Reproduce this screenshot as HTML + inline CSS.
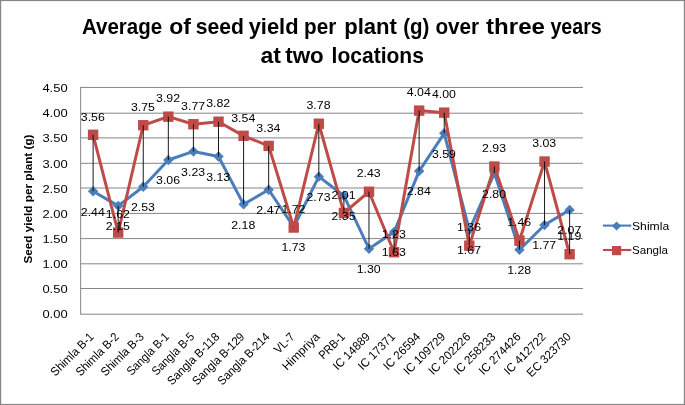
<!DOCTYPE html>
<html lang="en"><head><meta charset="utf-8"><title>Average of seed yield per plant</title>
<style>html,body{margin:0;padding:0;background:#fff;}body{width:685px;height:405px;overflow:hidden;}svg{display:block;}text{font-family:"Liberation Sans", sans-serif;fill:#000;}</style>
</head><body>
<svg width="685" height="405" viewBox="0 0 685 405">
<rect x="0" y="0" width="685" height="405" fill="#fff"/>
<rect x="0.6" y="0.5" width="683.8" height="404" fill="none" stroke="#868686" stroke-width="1.2"/>
<g font-size="22" font-weight="bold">
<text x="82.00" y="33.50" textLength="80.20" lengthAdjust="spacingAndGlyphs">Average</text>
<text x="169.30" y="33.50" textLength="21.70" lengthAdjust="spacingAndGlyphs">of</text>
<text x="195.70" y="33.50" textLength="48.10" lengthAdjust="spacingAndGlyphs">seed</text>
<text x="248.70" y="33.50" textLength="49.80" lengthAdjust="spacingAndGlyphs">yield</text>
<text x="304.00" y="33.50" textLength="32.20" lengthAdjust="spacingAndGlyphs">per</text>
<text x="344.20" y="33.50" textLength="52.80" lengthAdjust="spacingAndGlyphs">plant</text>
<text x="403.20" y="33.50" textLength="26.20" lengthAdjust="spacingAndGlyphs">(g)</text>
<text x="435.40" y="33.50" textLength="43.80" lengthAdjust="spacingAndGlyphs">over</text>
<text x="486.10" y="33.50" textLength="58.80" lengthAdjust="spacingAndGlyphs">three</text>
<text x="550.40" y="33.50" textLength="51.40" lengthAdjust="spacingAndGlyphs">years</text>
<text x="260.50" y="63.30" textLength="20.50" lengthAdjust="spacingAndGlyphs">at</text>
<text x="285.20" y="63.30" textLength="38.50" lengthAdjust="spacingAndGlyphs">two</text>
<text x="331.60" y="63.30" textLength="92.30" lengthAdjust="spacingAndGlyphs">locations</text>
</g>
<line x1="80.65" y1="87.45" x2="582.95" y2="87.45" stroke="#868686" stroke-width="1"/>
<line x1="80.65" y1="113.20" x2="582.95" y2="113.20" stroke="#868686" stroke-width="1"/>
<line x1="80.65" y1="137.90" x2="582.95" y2="137.90" stroke="#868686" stroke-width="1"/>
<line x1="80.65" y1="163.30" x2="582.95" y2="163.30" stroke="#868686" stroke-width="1"/>
<line x1="80.65" y1="188.00" x2="582.95" y2="188.00" stroke="#868686" stroke-width="1"/>
<line x1="80.65" y1="213.40" x2="582.95" y2="213.40" stroke="#868686" stroke-width="1"/>
<line x1="80.65" y1="238.60" x2="582.95" y2="238.60" stroke="#868686" stroke-width="1"/>
<line x1="80.65" y1="263.80" x2="582.95" y2="263.80" stroke="#868686" stroke-width="1"/>
<line x1="80.65" y1="288.50" x2="582.95" y2="288.50" stroke="#868686" stroke-width="1"/>
<line x1="80.65" y1="314.20" x2="582.95" y2="314.20" stroke="#868686" stroke-width="1"/>
<line x1="80.65" y1="86.95" x2="80.65" y2="314.70" stroke="#868686" stroke-width="1"/>
<g font-size="11" text-anchor="end">
<text x="67.6" y="92.25" textLength="25.2" lengthAdjust="spacingAndGlyphs">4.50</text>
<text x="67.6" y="117.37" textLength="25.2" lengthAdjust="spacingAndGlyphs">4.00</text>
<text x="67.6" y="142.49" textLength="25.2" lengthAdjust="spacingAndGlyphs">3.50</text>
<text x="67.6" y="167.61" textLength="25.2" lengthAdjust="spacingAndGlyphs">3.00</text>
<text x="67.6" y="192.73" textLength="25.2" lengthAdjust="spacingAndGlyphs">2.50</text>
<text x="67.6" y="217.85" textLength="25.2" lengthAdjust="spacingAndGlyphs">2.00</text>
<text x="67.6" y="242.97" textLength="25.2" lengthAdjust="spacingAndGlyphs">1.50</text>
<text x="67.6" y="268.09" textLength="25.2" lengthAdjust="spacingAndGlyphs">1.00</text>
<text x="67.6" y="293.21" textLength="25.2" lengthAdjust="spacingAndGlyphs">0.50</text>
<text x="67.6" y="318.33" textLength="25.2" lengthAdjust="spacingAndGlyphs">0.00</text>
</g>
<text transform="translate(32.4,199) rotate(-90)" font-size="11.2" font-weight="bold" text-anchor="middle" textLength="129" lengthAdjust="spacingAndGlyphs">Seed yield per plant  (g)</text>
<polyline points="93.10,191.25 118.18,205.86 143.26,186.71 168.34,160.01 193.42,151.44 218.50,156.48 243.58,204.35 268.66,189.74 293.74,227.03 318.82,176.64 343.90,195.78 368.98,248.69 394.06,232.06 419.14,171.09 444.22,133.30 469.30,230.05 494.38,173.11 519.46,249.70 544.54,225.01 569.62,209.89" fill="none" stroke="#4A7EBB" stroke-width="3" stroke-linejoin="round" stroke-linecap="round"/>
<path d="M93.10 186.05L98.30 191.25L93.10 196.45L87.90 191.25Z" fill="#4A7EBB"/>
<path d="M118.18 200.66L123.38 205.86L118.18 211.06L112.98 205.86Z" fill="#4A7EBB"/>
<path d="M143.26 181.51L148.46 186.71L143.26 191.91L138.06 186.71Z" fill="#4A7EBB"/>
<path d="M168.34 154.81L173.54 160.01L168.34 165.21L163.14 160.01Z" fill="#4A7EBB"/>
<path d="M193.42 146.24L198.62 151.44L193.42 156.64L188.22 151.44Z" fill="#4A7EBB"/>
<path d="M218.50 151.28L223.70 156.48L218.50 161.68L213.30 156.48Z" fill="#4A7EBB"/>
<path d="M243.58 199.15L248.78 204.35L243.58 209.55L238.38 204.35Z" fill="#4A7EBB"/>
<path d="M268.66 184.54L273.86 189.74L268.66 194.94L263.46 189.74Z" fill="#4A7EBB"/>
<path d="M293.74 221.83L298.94 227.03L293.74 232.23L288.54 227.03Z" fill="#4A7EBB"/>
<path d="M318.82 171.44L324.02 176.64L318.82 181.84L313.62 176.64Z" fill="#4A7EBB"/>
<path d="M343.90 190.58L349.10 195.78L343.90 200.98L338.70 195.78Z" fill="#4A7EBB"/>
<path d="M368.98 243.49L374.18 248.69L368.98 253.89L363.78 248.69Z" fill="#4A7EBB"/>
<path d="M394.06 226.86L399.26 232.06L394.06 237.26L388.86 232.06Z" fill="#4A7EBB"/>
<path d="M419.14 165.89L424.34 171.09L419.14 176.29L413.94 171.09Z" fill="#4A7EBB"/>
<path d="M444.22 128.10L449.42 133.30L444.22 138.50L439.02 133.30Z" fill="#4A7EBB"/>
<path d="M469.30 224.85L474.50 230.05L469.30 235.25L464.10 230.05Z" fill="#4A7EBB"/>
<path d="M494.38 167.91L499.58 173.11L494.38 178.31L489.18 173.11Z" fill="#4A7EBB"/>
<path d="M519.46 244.50L524.66 249.70L519.46 254.90L514.26 249.70Z" fill="#4A7EBB"/>
<path d="M544.54 219.81L549.74 225.01L544.54 230.21L539.34 225.01Z" fill="#4A7EBB"/>
<path d="M569.62 204.69L574.82 209.89L569.62 215.09L564.42 209.89Z" fill="#4A7EBB"/>
<polyline points="93.10,134.81 118.18,232.57 143.26,125.24 168.34,116.67 193.42,124.23 218.50,121.71 243.58,135.82 268.66,145.90 293.74,227.53 318.82,123.73 343.90,212.92 368.98,191.75 394.06,252.22 419.14,110.62 444.22,112.64 469.30,245.67 494.38,166.56 519.46,240.63 544.54,161.52 569.62,254.24" fill="none" stroke="#BE4B48" stroke-width="3" stroke-linejoin="round" stroke-linecap="round"/>
<rect x="87.90" y="129.61" width="10.40" height="10.40" fill="#BE4B48"/>
<rect x="112.98" y="227.37" width="10.40" height="10.40" fill="#BE4B48"/>
<rect x="138.06" y="120.04" width="10.40" height="10.40" fill="#BE4B48"/>
<rect x="163.14" y="111.47" width="10.40" height="10.40" fill="#BE4B48"/>
<rect x="188.22" y="119.03" width="10.40" height="10.40" fill="#BE4B48"/>
<rect x="213.30" y="116.51" width="10.40" height="10.40" fill="#BE4B48"/>
<rect x="238.38" y="130.62" width="10.40" height="10.40" fill="#BE4B48"/>
<rect x="263.46" y="140.70" width="10.40" height="10.40" fill="#BE4B48"/>
<rect x="288.54" y="222.33" width="10.40" height="10.40" fill="#BE4B48"/>
<rect x="313.62" y="118.53" width="10.40" height="10.40" fill="#BE4B48"/>
<rect x="338.70" y="207.72" width="10.40" height="10.40" fill="#BE4B48"/>
<rect x="363.78" y="186.55" width="10.40" height="10.40" fill="#BE4B48"/>
<rect x="388.86" y="247.02" width="10.40" height="10.40" fill="#BE4B48"/>
<rect x="413.94" y="105.42" width="10.40" height="10.40" fill="#BE4B48"/>
<rect x="439.02" y="107.44" width="10.40" height="10.40" fill="#BE4B48"/>
<rect x="464.10" y="240.47" width="10.40" height="10.40" fill="#BE4B48"/>
<rect x="489.18" y="161.36" width="10.40" height="10.40" fill="#BE4B48"/>
<rect x="514.26" y="235.43" width="10.40" height="10.40" fill="#BE4B48"/>
<rect x="539.34" y="156.32" width="10.40" height="10.40" fill="#BE4B48"/>
<rect x="564.42" y="249.04" width="10.40" height="10.40" fill="#BE4B48"/>
<line x1="93.10" y1="191.25" x2="93.10" y2="134.81" stroke="#000" stroke-width="0.9"/>
<line x1="118.18" y1="205.86" x2="118.18" y2="232.57" stroke="#000" stroke-width="0.9"/>
<line x1="143.26" y1="186.71" x2="143.26" y2="125.24" stroke="#000" stroke-width="0.9"/>
<line x1="168.34" y1="160.01" x2="168.34" y2="116.67" stroke="#000" stroke-width="0.9"/>
<line x1="193.42" y1="151.44" x2="193.42" y2="124.23" stroke="#000" stroke-width="0.9"/>
<line x1="218.50" y1="156.48" x2="218.50" y2="121.71" stroke="#000" stroke-width="0.9"/>
<line x1="243.58" y1="204.35" x2="243.58" y2="135.82" stroke="#000" stroke-width="0.9"/>
<line x1="268.66" y1="189.74" x2="268.66" y2="145.90" stroke="#000" stroke-width="0.9"/>
<line x1="293.74" y1="227.03" x2="293.74" y2="227.53" stroke="#000" stroke-width="0.9"/>
<line x1="318.82" y1="176.64" x2="318.82" y2="123.73" stroke="#000" stroke-width="0.9"/>
<line x1="343.90" y1="195.78" x2="343.90" y2="212.92" stroke="#000" stroke-width="0.9"/>
<line x1="368.98" y1="248.69" x2="368.98" y2="191.75" stroke="#000" stroke-width="0.9"/>
<line x1="394.06" y1="232.06" x2="394.06" y2="252.22" stroke="#000" stroke-width="0.9"/>
<line x1="419.14" y1="171.09" x2="419.14" y2="110.62" stroke="#000" stroke-width="0.9"/>
<line x1="444.22" y1="133.30" x2="444.22" y2="112.64" stroke="#000" stroke-width="0.9"/>
<line x1="469.30" y1="230.05" x2="469.30" y2="245.67" stroke="#000" stroke-width="0.9"/>
<line x1="494.38" y1="173.11" x2="494.38" y2="166.56" stroke="#000" stroke-width="0.9"/>
<line x1="519.46" y1="249.70" x2="519.46" y2="240.63" stroke="#000" stroke-width="0.9"/>
<line x1="544.54" y1="225.01" x2="544.54" y2="161.52" stroke="#000" stroke-width="0.9"/>
<line x1="569.62" y1="209.89" x2="569.62" y2="254.24" stroke="#000" stroke-width="0.9"/>
<g font-size="11" text-anchor="middle">
<text x="92.80" y="215.65" textLength="24.0" lengthAdjust="spacingAndGlyphs">2.44</text>
<text x="92.80" y="120.51" textLength="24.0" lengthAdjust="spacingAndGlyphs">3.56</text>
<text x="117.88" y="230.26" textLength="24.0" lengthAdjust="spacingAndGlyphs">2.15</text>
<text x="117.88" y="218.27" textLength="24.0" lengthAdjust="spacingAndGlyphs">1.62</text>
<text x="142.96" y="211.11" textLength="24.0" lengthAdjust="spacingAndGlyphs">2.53</text>
<text x="142.96" y="110.94" textLength="24.0" lengthAdjust="spacingAndGlyphs">3.75</text>
<text x="168.04" y="184.41" textLength="24.0" lengthAdjust="spacingAndGlyphs">3.06</text>
<text x="168.04" y="102.37" textLength="24.0" lengthAdjust="spacingAndGlyphs">3.92</text>
<text x="193.12" y="175.84" textLength="24.0" lengthAdjust="spacingAndGlyphs">3.23</text>
<text x="193.12" y="109.93" textLength="24.0" lengthAdjust="spacingAndGlyphs">3.77</text>
<text x="218.20" y="180.88" textLength="24.0" lengthAdjust="spacingAndGlyphs">3.13</text>
<text x="218.20" y="107.41" textLength="24.0" lengthAdjust="spacingAndGlyphs">3.82</text>
<text x="243.28" y="228.75" textLength="24.0" lengthAdjust="spacingAndGlyphs">2.18</text>
<text x="243.28" y="121.52" textLength="24.0" lengthAdjust="spacingAndGlyphs">3.54</text>
<text x="268.36" y="214.14" textLength="24.0" lengthAdjust="spacingAndGlyphs">2.47</text>
<text x="268.36" y="131.60" textLength="24.0" lengthAdjust="spacingAndGlyphs">3.34</text>
<text x="293.44" y="251.43" textLength="24.0" lengthAdjust="spacingAndGlyphs">1.73</text>
<text x="293.44" y="213.23" textLength="24.0" lengthAdjust="spacingAndGlyphs">1.72</text>
<text x="318.52" y="201.04" textLength="24.0" lengthAdjust="spacingAndGlyphs">2.73</text>
<text x="318.52" y="109.43" textLength="24.0" lengthAdjust="spacingAndGlyphs">3.78</text>
<text x="343.60" y="220.18" textLength="24.0" lengthAdjust="spacingAndGlyphs">2.35</text>
<text x="343.60" y="198.62" textLength="24.0" lengthAdjust="spacingAndGlyphs">2.01</text>
<text x="368.68" y="273.09" textLength="24.0" lengthAdjust="spacingAndGlyphs">1.30</text>
<text x="368.68" y="177.45" textLength="24.0" lengthAdjust="spacingAndGlyphs">2.43</text>
<text x="393.76" y="256.46" textLength="24.0" lengthAdjust="spacingAndGlyphs">1.63</text>
<text x="393.76" y="237.92" textLength="24.0" lengthAdjust="spacingAndGlyphs">1.23</text>
<text x="418.84" y="195.49" textLength="24.0" lengthAdjust="spacingAndGlyphs">2.84</text>
<text x="418.84" y="96.32" textLength="24.0" lengthAdjust="spacingAndGlyphs">4.04</text>
<text x="443.92" y="157.70" textLength="24.0" lengthAdjust="spacingAndGlyphs">3.59</text>
<text x="443.92" y="98.34" textLength="24.0" lengthAdjust="spacingAndGlyphs">4.00</text>
<text x="469.00" y="254.45" textLength="24.0" lengthAdjust="spacingAndGlyphs">1.67</text>
<text x="469.00" y="231.37" textLength="24.0" lengthAdjust="spacingAndGlyphs">1.36</text>
<text x="494.08" y="197.51" textLength="24.0" lengthAdjust="spacingAndGlyphs">2.80</text>
<text x="494.08" y="152.26" textLength="24.0" lengthAdjust="spacingAndGlyphs">2.93</text>
<text x="519.16" y="274.10" textLength="24.0" lengthAdjust="spacingAndGlyphs">1.28</text>
<text x="519.16" y="226.33" textLength="24.0" lengthAdjust="spacingAndGlyphs">1.46</text>
<text x="544.24" y="249.41" textLength="24.0" lengthAdjust="spacingAndGlyphs">1.77</text>
<text x="544.24" y="147.22" textLength="24.0" lengthAdjust="spacingAndGlyphs">3.03</text>
<text x="569.32" y="234.29" textLength="24.0" lengthAdjust="spacingAndGlyphs">2.07</text>
<text x="569.32" y="239.94" textLength="24.0" lengthAdjust="spacingAndGlyphs">1.19</text>
</g>
<g font-size="12" text-anchor="end">
<text transform="translate(94.55,337.50) rotate(-45)" textLength="55.47" lengthAdjust="spacingAndGlyphs">Shimla B-1</text>
<text transform="translate(119.67,337.50) rotate(-45)" textLength="55.47" lengthAdjust="spacingAndGlyphs">Shimla B-2</text>
<text transform="translate(144.78,337.50) rotate(-45)" textLength="55.47" lengthAdjust="spacingAndGlyphs">Shimla B-3</text>
<text transform="translate(169.90,337.50) rotate(-45)" textLength="54.46" lengthAdjust="spacingAndGlyphs">Sangla B-1</text>
<text transform="translate(195.01,337.50) rotate(-45)" textLength="54.46" lengthAdjust="spacingAndGlyphs">Sangla B-5</text>
<text transform="translate(220.12,337.50) rotate(-45)" textLength="68.14" lengthAdjust="spacingAndGlyphs">Sangla B-118</text>
<text transform="translate(245.24,337.50) rotate(-45)" textLength="68.14" lengthAdjust="spacingAndGlyphs">Sangla B-129</text>
<text transform="translate(270.35,337.50) rotate(-45)" textLength="68.14" lengthAdjust="spacingAndGlyphs">Sangla B-214</text>
<text transform="translate(295.47,337.50) rotate(-45)" textLength="23.52" lengthAdjust="spacingAndGlyphs">VL-7</text>
<text transform="translate(320.58,337.50) rotate(-45)" textLength="47.55" lengthAdjust="spacingAndGlyphs">Himpriya</text>
<text transform="translate(345.70,337.50) rotate(-45)" textLength="31.48" lengthAdjust="spacingAndGlyphs">PRB-1</text>
<text transform="translate(370.81,337.50) rotate(-45)" textLength="46.89" lengthAdjust="spacingAndGlyphs">IC 14889</text>
<text transform="translate(395.93,337.50) rotate(-45)" textLength="46.89" lengthAdjust="spacingAndGlyphs">IC 17371</text>
<text transform="translate(421.04,337.50) rotate(-45)" textLength="46.89" lengthAdjust="spacingAndGlyphs">IC 26594</text>
<text transform="translate(446.16,337.50) rotate(-45)" textLength="53.73" lengthAdjust="spacingAndGlyphs">IC 109729</text>
<text transform="translate(471.27,337.50) rotate(-45)" textLength="53.73" lengthAdjust="spacingAndGlyphs">IC 202226</text>
<text transform="translate(496.39,337.50) rotate(-45)" textLength="53.73" lengthAdjust="spacingAndGlyphs">IC 258233</text>
<text transform="translate(521.50,337.50) rotate(-45)" textLength="53.73" lengthAdjust="spacingAndGlyphs">IC 274426</text>
<text transform="translate(546.62,337.50) rotate(-45)" textLength="53.73" lengthAdjust="spacingAndGlyphs">IC 412722</text>
<text transform="translate(571.73,337.50) rotate(-45)" textLength="56.77" lengthAdjust="spacingAndGlyphs">EC 323730</text>
</g>
<line x1="603" y1="225.6" x2="631.3" y2="225.6" stroke="#4A7EBB" stroke-width="2.1"/>
<path d="M616.60 221.40L621.20 226.00L616.60 230.60L612.00 226.00Z" fill="#4A7EBB"/>
<text x="632.0" y="229.5" font-size="11.3" textLength="37.2" lengthAdjust="spacingAndGlyphs">Shimla</text>
<line x1="603" y1="250.0" x2="631.3" y2="250.0" stroke="#BE4B48" stroke-width="2.1"/>
<rect x="612.00" y="246.00" width="9.20" height="9.20" fill="#BE4B48"/>
<text x="632.0" y="253.7" font-size="11.3" textLength="36.0" lengthAdjust="spacingAndGlyphs">Sangla</text>
</svg></body></html>
